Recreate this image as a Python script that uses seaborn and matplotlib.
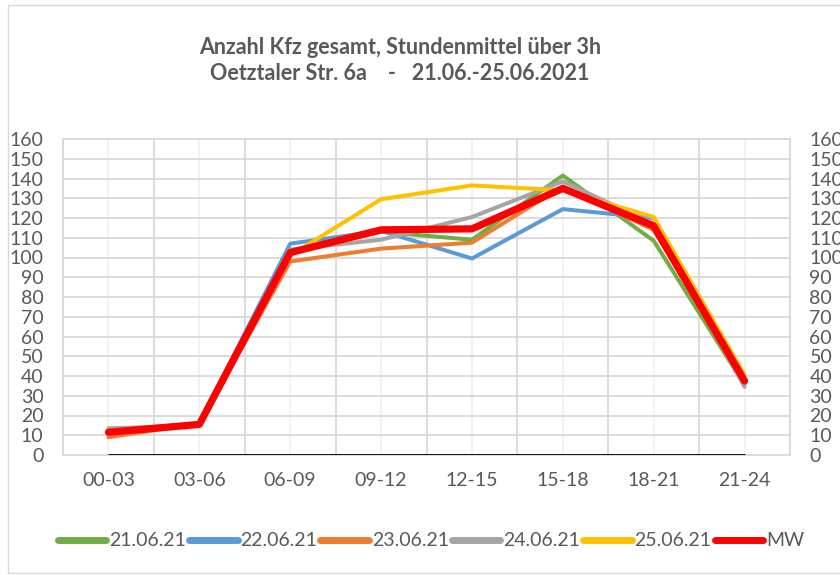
import matplotlib
matplotlib.use('Agg')
import matplotlib.pyplot as plt
import matplotlib.patches as patches
import seaborn as sns
import pandas as pd

# Zeitfenster (3h)
slots = ['00-03', '03-06', '06-09', '09-12', '12-15', '15-18', '18-21', '21-24']

# Stundenmittel je Tag
d_21_06 = [12, 16, 103, 113, 109, 141.5, 108.5, 35.5]
d_22_06 = [12, 16, 107, 113.5, 99.5, 124.5, 120, 37]
d_23_06 = [9, 16, 98, 104.5, 107.5, 136, 114, 38]
d_24_06 = [13.5, 15, 104, 109, 120.5, 138.5, 117, 34.5]
d_25_06 = [11.5, 16, 101, 129.5, 136.5, 134, 120.5, 40.5]
mw = [11.5, 15.5, 102.5, 114, 114.5, 135, 116, 37.5]

series = {
    '21.06.21': d_21_06,
    '22.06.21': d_22_06,
    '23.06.21': d_23_06,
    '24.06.21': d_24_06,
    '25.06.21': d_25_06,
    'MW': mw,
}
colors = {
    '21.06.21': '#70AD47',
    '22.06.21': '#5B9BD5',
    '23.06.21': '#ED7D31',
    '24.06.21': '#A5A5A5',
    '25.06.21': '#FFC000',
    'MW': '#FF0000',
}

sns.set_style('white')
plt.rcParams['font.family'] = ['Lato', 'DejaVu Sans']
TXT = '#595959'

fig = plt.figure(figsize=(8.4, 5.75), dpi=100)
fig.subplots_adjust(left=63/840, right=790/840, top=1-139/575, bottom=1-455/575)
ax = fig.add_subplot(111)

for name, vals in series.items():
    lw = 5.2 if name == 'MW' else 2.9
    sns.lineplot(x=slots, y=vals, ax=ax, color=colors[name], lw=lw, label=name,
                 sort=False, solid_joinstyle='round', solid_capstyle='round')

# y=0 Achsenlinie nur über den Kategorien
ax.hlines(0, 0, len(slots) - 1, color='black', lw=2, zorder=5)

ax.set_xlim(-0.5, len(slots) - 0.5)
ax.set_ylim(0, 160)
yt = list(range(0, 161, 10))
ax.set_yticks(yt)
ax.set_xticks(range(len(slots)))
ax.set_xticklabels(slots)
ax.set_xticks([i - 0.5 for i in range(len(slots) + 1)], minor=True)
ax.grid(True, which='major', axis='y', color='#d9d9d9', lw=1.3)
ax.grid(True, which='major', axis='x', color='#f0f0f0', lw=1.3)
ax.grid(True, which='minor', axis='x', color='#d9d9d9', lw=1.3)
ax.set_axisbelow(True)
ax.tick_params(axis='both', which='both', length=0, labelsize=14, labelcolor=TXT)
ax.tick_params(axis='y', pad=14)
ax.tick_params(axis='x', pad=12)
ax.set_xlabel('')
ax.set_ylabel('')
for s in ax.spines.values():
    s.set_color('#d9d9d9')
    s.set_linewidth(1.3)
ax.get_legend().remove()

ax2 = ax.twinx()
ax2.set_ylim(0, 160)
ax2.set_yticks(yt)
ax2.tick_params(axis='y', length=0, labelsize=14, labelcolor=TXT, pad=14)
for s in ax2.spines.values():
    s.set_visible(False)

fig.text(400/840, 1-47/575, 'Anzahl Kfz gesamt, Stundenmittel über 3h',
         ha='center', va='center', fontsize=15.5, fontweight='bold', color=TXT)
fig.text(400/840, 1-73/575, 'Oetztaler Str. 6a    -   21.06.-25.06.2021',
         ha='center', va='center', fontsize=15.5, fontweight='bold', color=TXT)

handles, labels = ax.get_legend_handles_labels()
leg = fig.legend(handles, labels, loc='center', bbox_to_anchor=(431/840, 1-541/575),
                 ncol=6, frameon=False, fontsize=14, handlelength=2.5,
                 handletextpad=0.15, columnspacing=0.15, labelcolor=TXT)
for h in leg.legend_handles:
    h.set_linewidth(5)
    h.set_solid_capstyle('round')

fig.patches.append(patches.Rectangle((8/840, 1-573/575), 840, 568/575,
                                     transform=fig.transFigure, fill=False,
                                     edgecolor='#d9d9d9', lw=1))

fig.savefig('out.png', dpi=100)
